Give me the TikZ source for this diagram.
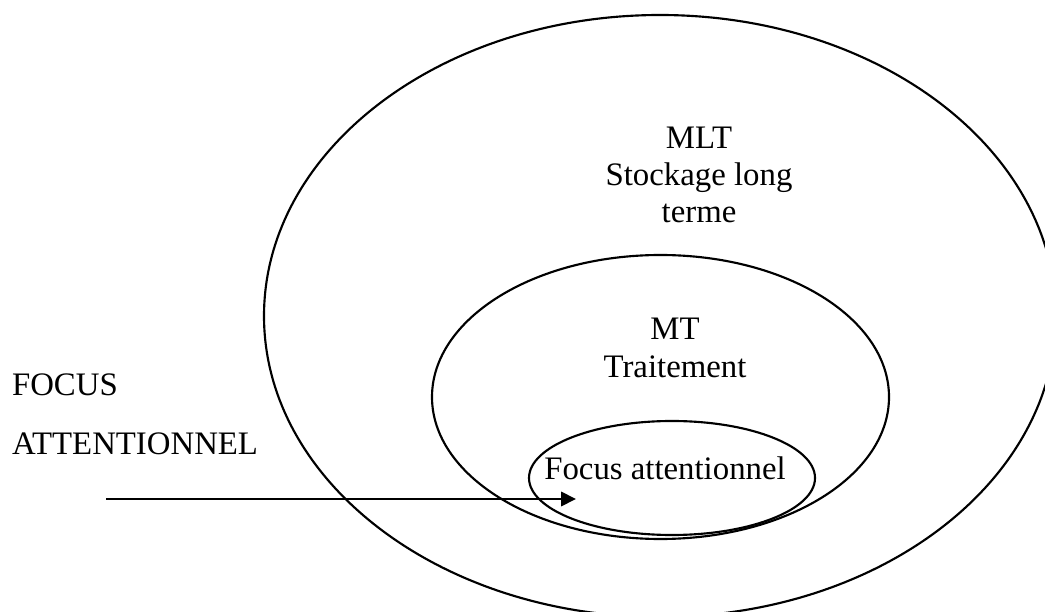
\documentclass[tikz,border=0pt]{standalone}
\usepackage{fontspec}
\setmainfont{Liberation Serif}
\usetikzlibrary{arrows.meta}

\begin{document}
\begin{tikzpicture}[x=0.375pt,y=-0.375pt,line width=0.8pt,
    txt/.style={inner sep=0pt,font=\fontsize{12.3}{14}\selectfont,align=center}]
  \useasboundingbox (0,0) rectangle (1045,612); \clip (0,0) rectangle (1045,612);
  % les trois memoires
  \draw (660,316) ellipse [x radius=396,y radius=301];
  \draw (660.5,397) ellipse [x radius=228.5,y radius=142];
  \draw (672,478) ellipse [x radius=143,y radius=57];
  \node[txt] (mlt) at (699,175) {MLT\\Stockage long\\terme};
  \node[txt] (mt) at (675,348) {MT\\Traitement};
  \node[txt,anchor=base] (focus) at (665,480) {Focus attentionnel};
  \node[txt,anchor=base west] (titre1) at (11,396) {FOCUS};
  \node[txt,anchor=base west] (titre2) at (11,455) {ATTENTIONNEL};
  \coordinate (depart) at (106,499); \coordinate (cible) at (576,499);
  \draw[-{Triangle[length=5.6pt,width=5.4pt]}] (depart) -- (cible);
\end{tikzpicture}
\end{document}
